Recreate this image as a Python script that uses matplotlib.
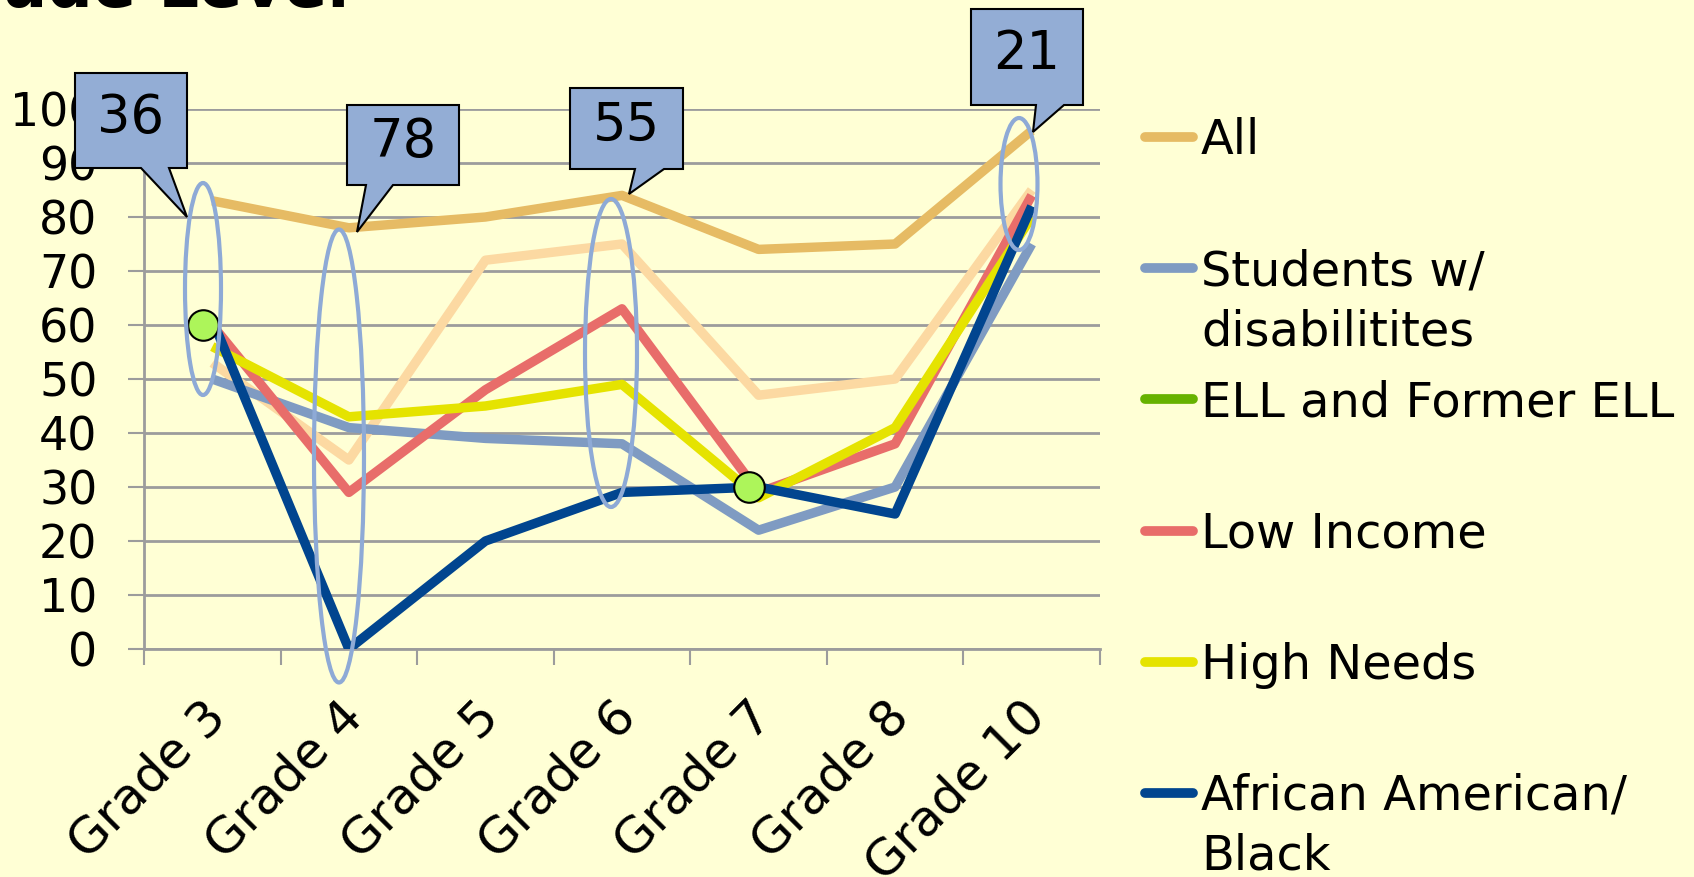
import matplotlib
matplotlib.use("Agg")
import matplotlib.pyplot as plt
import matplotlib.patches as patches
import matplotlib.transforms as mtransforms
from matplotlib.lines import Line2D
import numpy as np

# data (percent, by grade)
grades = ["Grade 3", "Grade 4", "Grade 5", "Grade 6", "Grade 7", "Grade 8", "Grade 10"]
all_students = [83, 78, 80, 84, 74, 75, 96]
students_wd = [50, 41, 39, 38, 22, 30, 75]
ell_former = [60, np.nan, np.nan, np.nan, 30, np.nan, np.nan]
low_income = [60, 29, 48, 63, 29, 38, 84]
high_needs = [56, 43, 45, 49, 28, 41, 80]
african_american = [61, 0, 20, 29, 30, 25, 82]
other_group = [53, 35, 72, 75, 47, 50, 85]  # light orange line, its legend entry is cut off

legend_names = ["All", "Students w/\ndisabilitites", "ELL and Former ELL",
                "Low Income", "High Needs", "African American/\nBlack"]
callout_labels = ["36", "78", "55", "21"]
yticks = list(range(0, 101, 10))

BG = "#FFFFD5"
GRID = "#9C9C9C"
C_ALL = "#E6BB64"
C_SWD = "#7F9BC2"
C_ELL = "#66B200"
C_LOW = "#E86D6A"
C_HIGH = "#E5E300"
C_AFAM = "#01458F"
C_OTHER = "#FCD9A2"
C_BOX = "#93ADD5"
C_RING = "#8EAAD6"

W, H = 1694, 877
fig = plt.figure(figsize=(W / 100, H / 100), dpi=100, facecolor=BG)
# pixel coords, origin top-left
px = mtransforms.Affine2D().scale(1 / W, -1 / H).translate(0, 1) + fig.transFigure

ax = fig.add_axes([144 / W, 1 - 649 / H, (1100 - 144) / W, (649 - 109) / H])
ax.set_facecolor(BG)

x = np.arange(len(grades))
lw = 6.8
kw = dict(lw=lw, solid_joinstyle="round", solid_capstyle="butt")
ax.plot(x, other_group, color=C_OTHER, zorder=3, **kw)
ax.plot(x, all_students, color=C_ALL, zorder=3, **kw)
ax.plot(x, students_wd, color=C_SWD, zorder=3, **kw)
ax.plot(x, low_income, color=C_LOW, zorder=3, **kw)
ax.plot(x, high_needs, color=C_HIGH, zorder=3, **kw)
ax.plot(x, african_american, color=C_AFAM, zorder=3, **kw)
ell_shift = -0.07
ax.plot(x + ell_shift, ell_former, linestyle="none", marker="o", ms=22,
        mfc="#ADF55A", mec="black", mew=1.5, zorder=6, clip_on=False)

ax.set_xlim(-0.5, len(grades) - 0.5)
ax.set_ylim(0, 100)
ax.set_yticks(yticks)
ax.set_yticklabels([str(t) for t in yticks])
ax.yaxis.grid(True, color=GRID, lw=2)
ax.set_axisbelow(True)
for s in ["top", "right"]:
    ax.spines[s].set_visible(False)
for s in ["left", "bottom"]:
    ax.spines[s].set_color(GRID)
    ax.spines[s].set_linewidth(2)

ax.set_xticks(np.arange(-0.5, len(grades), 1))
ax.set_xticklabels([])
ax.set_xticks(x + 0.17, minor=True)
ax.set_xticklabels(grades, minor=True, rotation=45, ha="right", va="top")
ax.tick_params(axis="y", length=11.5, width=1.5, color=GRID, pad=22, labelsize=33)
ax.tick_params(axis="x", which="major", length=11.5, width=1.5, color=GRID)
ax.tick_params(axis="x", which="minor", length=0, pad=31, labelsize=36)

# ellipses around the highlighted grades
rings = [(203, 289, 36, 212), (339, 456, 50, 453), (611, 353, 52, 308), (1019, 184, 37, 132)]
for cx, cy, w, h in rings:
    e = patches.Ellipse((cx, cy), w, h, transform=px, fill=False, ec=C_RING, lw=3, zorder=5)
    fig.add_artist(e)

# callout boxes: box (x0, y0, x1, y1), pointer base (b0, b1), tip (tx, ty)
callouts = [
    ((75, 73, 187, 168), (141, 169), (187, 217)),
    ((347, 105, 459, 185), (366, 393), (357, 232)),
    ((570, 88, 683, 169), (635, 664), (629, 194)),
    ((971, 9, 1083, 105), (1036, 1064), (1033, 132)),
]
for lab, (box, base, tip) in zip(callout_labels, callouts):
    x0, y0, x1, y1 = box
    pts = [(x0, y0), (x1, y0), (x1, y1), (base[1], y1), tip, (base[0], y1), (x0, y1)]
    poly = patches.Polygon(pts, closed=True, transform=px, fc=C_BOX, ec="black", lw=1.5, zorder=10)
    fig.add_artist(poly)
    fig.text((x0 + x1) / 2, (y0 + y1) / 2 - 3, lab, transform=px, ha="center", va="center",
             fontsize=38, zorder=11)

# title, mostly above the visible area
fig.text(349, 7, "Grade Level", transform=px, ha="right", va="baseline",
         fontsize=46, fontweight="bold")

# legend (second line of a label sits below, handle lines up with the first)
legend_colors = [C_ALL, C_SWD, C_ELL, C_LOW, C_HIGH, C_AFAM]
for i, (name, col) in enumerate(zip(legend_names, legend_colors)):
    yc = 137 + 131.2 * i
    fig.add_artist(Line2D([1145, 1193], [yc, yc], transform=px, color=col, lw=7,
                          solid_capstyle="round"))
    for j, part in enumerate(name.split("\n")):
        fig.text(1201, yc + 17 + 60 * j, part, transform=px, ha="left", va="baseline",
                 fontsize=34.5)

fig.savefig("out.png", dpi=100, facecolor=BG)
